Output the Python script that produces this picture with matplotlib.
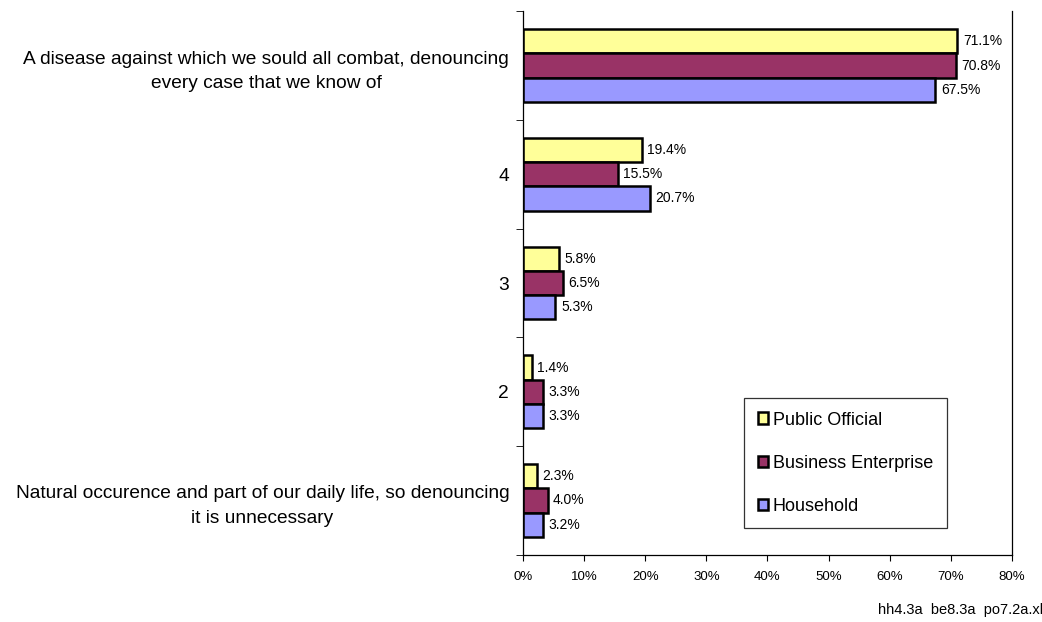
import numpy as np
import matplotlib.pyplot as plt
from matplotlib.ticker import FuncFormatter

plt.rcParams['font.family'] = ['Liberation Sans', 'DejaVu Sans']

# categories listed bottom to top
categories = ['Natural occurence and part of our daily life, so denouncing\nit is unnecessary',
              '2', '3', '4',
              'A disease against which we sould all combat, denouncing\nevery case that we know of']
public_official = [2.3, 1.4, 5.8, 19.4, 71.1]
business_enterprise = [4.0, 3.3, 6.5, 15.5, 70.8]
household = [3.2, 3.3, 5.3, 20.7, 67.5]

series = [('Public Official', public_official, '#FFFF99'),
          ('Business Enterprise', business_enterprise, '#993366'),
          ('Household', household, '#9999FF')]

fig = plt.figure(figsize=(10.42, 6.22), dpi=100)
ax = fig.add_axes([0.502, 0.108, 0.469, 0.874])

y = np.arange(len(categories))
h = 1 / 4.5
for i, (name, vals, col) in enumerate(series):
    pos = y + h - i * h
    bars = ax.barh(pos, vals, height=h, color=col, edgecolor='black', linewidth=1.8, label=name)
    for b, v in zip(bars, vals):
        ax.text(v + 0.9, b.get_y() + h / 2, f'{v:.1f}%', va='center', ha='left', fontsize=10)

ax.set_xlim(0, 80)
ax.set_ylim(-0.5, len(categories) - 0.5)
ax.set_xticks(np.arange(0, 81, 10))
ax.xaxis.set_major_formatter(FuncFormatter(lambda v, p: f'{v:.0f}%'))
ax.tick_params(axis='x', labelsize=9.5, length=4, pad=8)

ax.set_yticks(y)
ax.set_yticklabels(categories, fontsize=13.8, ha='right', multialignment='center')
for lbl in ax.get_yticklabels():
    lbl.set_linespacing(1.6)
ax.tick_params(axis='y', length=0, pad=10)
ax.set_yticks(np.arange(-0.5, len(categories), 1), minor=True)
ax.tick_params(axis='y', which='minor', length=5)

ax.spines['top'].set_visible(False)
for s in ['left', 'bottom', 'right']:
    ax.spines[s].set_linewidth(0.9)

leg = ax.legend(loc='upper left', bbox_to_anchor=(744 / 1042, 1 - 398 / 622),
                bbox_transform=fig.transFigure, fontsize=13, frameon=True, fancybox=False,
                edgecolor='black', handlelength=0.6, handleheight=0.6, handletextpad=0.25,
                labelspacing=1.45, borderpad=0.75, borderaxespad=0)
leg.get_frame().set_linewidth(0.9)
for p in leg.get_patches():
    p.set_linewidth(1.8)

fig.text(878 / 1042, 1 - 617 / 622, 'hh4.3a  be8.3a  po7.2a.xls', fontsize=10.5, ha='left', va='bottom')

fig.savefig('out.png', dpi=100)
